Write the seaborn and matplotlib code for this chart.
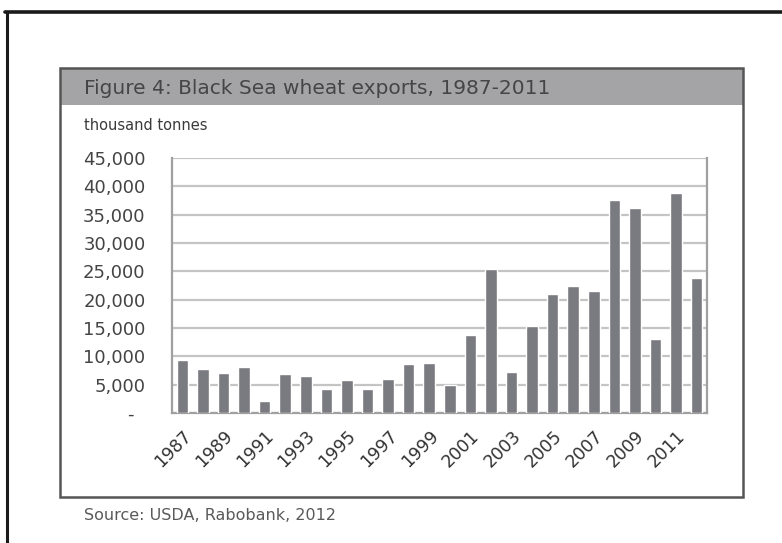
import matplotlib
matplotlib.use("Agg")
import matplotlib.pyplot as plt
import seaborn as sns
import pandas as pd
from matplotlib.patches import Rectangle
from matplotlib.lines import Line2D

years = [str(y) for y in range(1987, 2013)]
exports = [9300, 7700, 7000, 8200, 2100, 6800, 6500, 4300, 5800, 4300,
           6050, 8600, 8900, 4900, 13800, 25400, 7300, 15350, 21000, 22400,
           21600, 37600, 36100, 13100, 38900, 23800]
y_ticks = [0, 5000, 10000, 15000, 20000, 25000, 30000, 35000, 40000, 45000]
title = "Figure 4: Black Sea wheat exports, 1987-2011"
unit_label = "thousand tonnes"
source = "Source: USDA, Rabobank, 2012"

W, H = 782, 543
sns.set_theme(style="white")
plt.rcParams['font.family'] = ['DejaVu Sans']

fig = plt.figure(figsize=(W / 100, H / 100), dpi=100)
fig.patch.set_facecolor("white")

def px(x0, y0, x1, y1):
    return [x0 / W, 1 - y1 / H, (x1 - x0) / W, (y1 - y0) / H]

# outer frame lines
fig.add_artist(Line2D([5 / W, 1], [1 - 11.5 / H, 1 - 11.5 / H], transform=fig.transFigure,
                      color="#1a1a1a", lw=2.6))
fig.add_artist(Line2D([7 / W, 7 / W], [0, 1 - 11.5 / H], transform=fig.transFigure,
                      color="#1a1a1a", lw=2.2))

# inner box with title band
fig.add_artist(Rectangle((60 / W, 1 - 105 / H), (743 - 60) / W, (105 - 68) / H,
                         transform=fig.transFigure, facecolor="#a4a4a7", edgecolor="none"))
fig.add_artist(Rectangle((60 / W, 1 - 497 / H), (743 - 60) / W, (497 - 68) / H,
                         transform=fig.transFigure, facecolor="none", edgecolor="#555555", lw=1.8))

fig.text(84 / W, 1 - 88 / H, title, fontsize=14.5, color="#454545", va="center", ha="left")
fig.text(84 / W, 1 - 126 / H, unit_label, fontsize=10.5, color="#3a3a3a", va="center", ha="left")
fig.text(84 / W, 1 - 516 / H, source, fontsize=11.5, color="#5a5a5a", va="center", ha="left")

ax = fig.add_axes(px(172, 158, 707, 413))
df = pd.DataFrame({"year": years, "exports": exports})
sns.barplot(data=df, x="year", y="exports", color="#7a7b80", saturation=1,
            width=0.56, ax=ax, zorder=3)

ax.set_ylim(0, 45000)
ax.set_xlim(-0.5, len(years) - 0.5)
ax.set_yticks(y_ticks)
ax.set_yticklabels(["-  "] + [f"{v:,}" for v in y_ticks[1:]], fontsize=13, color="#444444")
for v in y_ticks:
    ax.axhline(v, color="#c4c4c4", lw=1.6, zorder=1)

ax.set_xticks(range(len(years)))
ax.set_xticklabels([y if i % 2 == 0 else "" for i, y in enumerate(years)],
                   rotation=45, ha="right", va="top", rotation_mode="anchor",
                   fontsize=12.5, color="#333333")
ax.tick_params(axis="x", which="major", length=0, pad=10)
ax.set_xticks([i - 0.5 for i in range(len(years) + 1)], minor=True)
ax.tick_params(axis="x", which="minor", length=5, width=1.4, color="#9a9a9a", direction="out")
ax.tick_params(axis="y", which="major", length=5, width=1.4, color="#9a9a9a", direction="out", pad=14)
ax.set_xlabel("")
ax.set_ylabel("")
for side in ["left", "bottom", "right"]:
    ax.spines[side].set_visible(True)
    ax.spines[side].set_color("#a0a0a0")
    ax.spines[side].set_linewidth(1.6)
ax.spines["top"].set_visible(False)
ax.set_facecolor("white")

fig.savefig("out.png", dpi=100)
